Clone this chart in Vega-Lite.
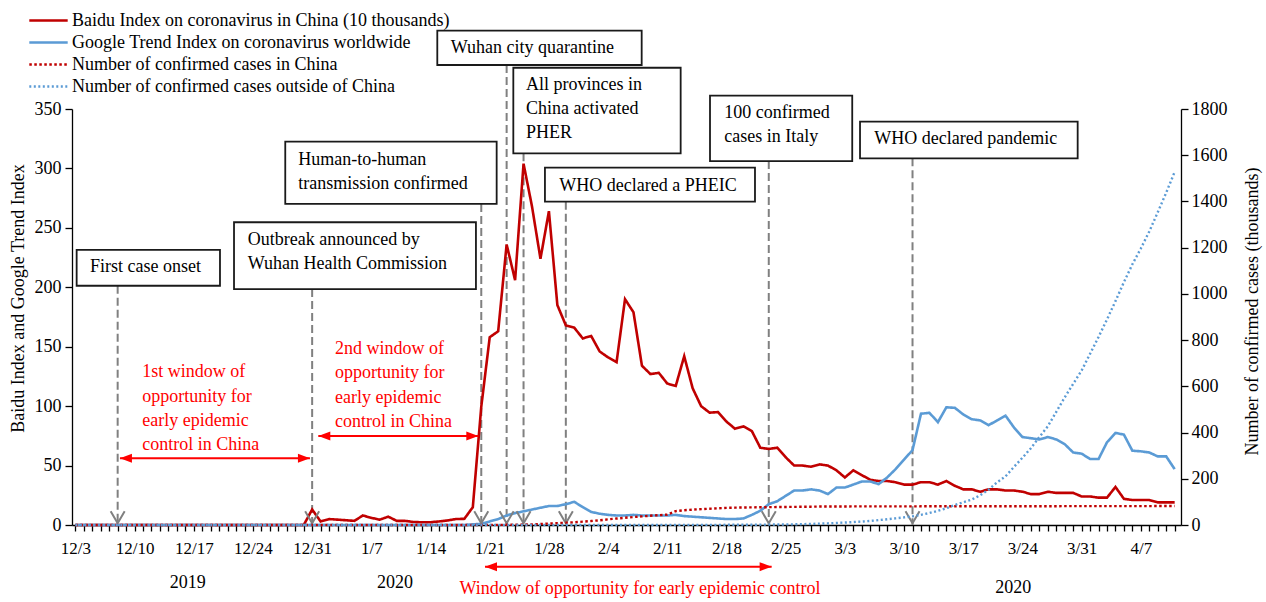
{
"$schema": "https://vega.github.io/schema/vega-lite/v6.json",
"width": 1109, "height": 416,
"autosize": {"type": "none"},
"padding": {"left": 72, "top": 109, "right": 85, "bottom": 77},
"background": "white",
"config": {
  "font": "Liberation Serif",
  "view": {"stroke": null},
  "axis": {"labelFont": "Liberation Serif", "titleFont": "Liberation Serif", "labelColor": "black", "titleColor": "black", "domainColor": "black", "tickColor": "black", "grid": false, "titleFontWeight": "normal", "labelFontSize": 18, "titleFontSize": 18, "domainWidth": 1.3, "tickWidth": 1.3}
},
"datasets": {
"s": [
{"x":"2019/12/03","b":0,"g":0,"c":0,"o":0},
{"x":"2019/12/04","b":0,"g":0,"c":0,"o":0},
{"x":"2019/12/05","b":0,"g":0,"c":0,"o":0},
{"x":"2019/12/06","b":0,"g":0,"c":0,"o":0},
{"x":"2019/12/07","b":0,"g":0,"c":0,"o":0},
{"x":"2019/12/08","b":0,"g":0,"c":0,"o":0},
{"x":"2019/12/09","b":0,"g":0,"c":0,"o":0},
{"x":"2019/12/10","b":0,"g":0,"c":0,"o":0},
{"x":"2019/12/11","b":0,"g":0,"c":0,"o":0},
{"x":"2019/12/12","b":0,"g":0,"c":0,"o":0},
{"x":"2019/12/13","b":0,"g":0,"c":0,"o":0},
{"x":"2019/12/14","b":0,"g":0,"c":0,"o":0},
{"x":"2019/12/15","b":0,"g":0,"c":0,"o":0},
{"x":"2019/12/16","b":0,"g":0,"c":0,"o":0},
{"x":"2019/12/17","b":0,"g":0,"c":0,"o":0},
{"x":"2019/12/18","b":0,"g":0,"c":0,"o":0},
{"x":"2019/12/19","b":0,"g":0,"c":0,"o":0},
{"x":"2019/12/20","b":0,"g":0,"c":0,"o":0},
{"x":"2019/12/21","b":0,"g":0,"c":0,"o":0},
{"x":"2019/12/22","b":0,"g":0,"c":0,"o":0},
{"x":"2019/12/23","b":0,"g":0,"c":0,"o":0},
{"x":"2019/12/24","b":0,"g":0,"c":0,"o":0},
{"x":"2019/12/25","b":0,"g":0,"c":0,"o":0},
{"x":"2019/12/26","b":0,"g":0,"c":0,"o":0},
{"x":"2019/12/27","b":0,"g":0,"c":0,"o":0},
{"x":"2019/12/28","b":0,"g":0,"c":0,"o":0},
{"x":"2019/12/29","b":0,"g":0,"c":0,"o":0},
{"x":"2019/12/30","b":0,"g":0,"c":0,"o":0},
{"x":"2019/12/31","b":13,"g":0,"c":0.03,"o":0},
{"x":"2020/01/01","b":3,"g":0,"c":0.03,"o":0},
{"x":"2020/01/02","b":5,"g":0,"c":0.03,"o":0},
{"x":"2020/01/03","b":4.5,"g":0,"c":0.04,"o":0},
{"x":"2020/01/04","b":4,"g":0,"c":0.04,"o":0},
{"x":"2020/01/05","b":3.5,"g":0,"c":0.04,"o":0},
{"x":"2020/01/06","b":8,"g":0,"c":0.04,"o":0},
{"x":"2020/01/07","b":6,"g":0,"c":0.04,"o":0},
{"x":"2020/01/08","b":4.5,"g":0,"c":0.04,"o":0},
{"x":"2020/01/09","b":7,"g":0,"c":0.04,"o":0},
{"x":"2020/01/10","b":3.5,"g":0,"c":0.04,"o":0},
{"x":"2020/01/11","b":3.5,"g":0,"c":0.04,"o":0},
{"x":"2020/01/12","b":2.5,"g":0,"c":0.04,"o":0},
{"x":"2020/01/13","b":2.3,"g":0,"c":0.04,"o":0},
{"x":"2020/01/14","b":2.3,"g":0,"c":0.04,"o":0},
{"x":"2020/01/15","b":3,"g":0,"c":0.04,"o":0},
{"x":"2020/01/16","b":3.8,"g":0,"c":0.04,"o":0},
{"x":"2020/01/17","b":5,"g":0,"c":0.05,"o":0},
{"x":"2020/01/18","b":5.2,"g":0,"c":0.06,"o":0},
{"x":"2020/01/19","b":15,"g":0.5,"c":0.2,"o":0},
{"x":"2020/01/20","b":99.5,"g":1,"c":0.29,"o":0},
{"x":"2020/01/21","b":158,"g":3,"c":0.44,"o":0.01},
{"x":"2020/01/22","b":163,"g":5,"c":0.57,"o":0.01},
{"x":"2020/01/23","b":236,"g":8,"c":0.83,"o":0.02},
{"x":"2020/01/24","b":206,"g":10,"c":1.29,"o":0.02},
{"x":"2020/01/25","b":304,"g":11.5,"c":1.98,"o":0.03},
{"x":"2020/01/26","b":268,"g":13,"c":2.74,"o":0.04},
{"x":"2020/01/27","b":224,"g":14.5,"c":4.52,"o":0.05},
{"x":"2020/01/28","b":264,"g":16,"c":5.97,"o":0.06},
{"x":"2020/01/29","b":185,"g":16,"c":7.71,"o":0.07},
{"x":"2020/01/30","b":168,"g":17.5,"c":9.69,"o":0.08},
{"x":"2020/01/31","b":166,"g":19.5,"c":11.79,"o":0.11},
{"x":"2020/02/01","b":157,"g":15,"c":14.38,"o":0.13},
{"x":"2020/02/02","b":159,"g":11,"c":17.21,"o":0.15},
{"x":"2020/02/03","b":146,"g":9.5,"c":20.44,"o":0.15},
{"x":"2020/02/04","b":141,"g":8.5,"c":24.32,"o":0.16},
{"x":"2020/02/05","b":137,"g":8,"c":28.02,"o":0.19},
{"x":"2020/02/06","b":190,"g":8,"c":31.16,"o":0.22},
{"x":"2020/02/07","b":179,"g":8.5,"c":34.55,"o":0.27},
{"x":"2020/02/08","b":134,"g":8,"c":37.2,"o":0.29},
{"x":"2020/02/09","b":127,"g":8,"c":40.17,"o":0.31},
{"x":"2020/02/10","b":128,"g":8,"c":42.64,"o":0.32},
{"x":"2020/02/11","b":119,"g":8,"c":44.65,"o":0.39},
{"x":"2020/02/12","b":117,"g":8.5,"c":59.8,"o":0.44},
{"x":"2020/02/13","b":142,"g":7.5,"c":63.85,"o":0.45},
{"x":"2020/02/14","b":115,"g":7,"c":66.49,"o":0.51},
{"x":"2020/02/15","b":100,"g":6.5,"c":68.5,"o":0.53},
{"x":"2020/02/16","b":94.5,"g":6,"c":70.55,"o":0.68},
{"x":"2020/02/17","b":95,"g":5.5,"c":72.44,"o":0.69},
{"x":"2020/02/18","b":87,"g":5,"c":74.19,"o":0.79},
{"x":"2020/02/19","b":81,"g":5,"c":75,"o":0.8},
{"x":"2020/02/20","b":83,"g":5.5,"c":75.89,"o":1},
{"x":"2020/02/21","b":79,"g":8.5,"c":76.29,"o":1.1},
{"x":"2020/02/22","b":65,"g":12,"c":76.94,"o":1.4},
{"x":"2020/02/23","b":64,"g":17.5,"c":77.15,"o":1.8},
{"x":"2020/02/24","b":65,"g":20,"c":77.66,"o":2.1},
{"x":"2020/02/25","b":57,"g":24.5,"c":78.06,"o":2.5},
{"x":"2020/02/26","b":50,"g":29,"c":78.5,"o":2.9},
{"x":"2020/02/27","b":50,"g":29,"c":78.82,"o":3.7},
{"x":"2020/02/28","b":49,"g":30,"c":79.25,"o":4.7},
{"x":"2020/02/29","b":51,"g":29,"c":79.82,"o":6},
{"x":"2020/03/01","b":50,"g":26,"c":80.03,"o":7.2},
{"x":"2020/03/02","b":46,"g":31.5,"c":80.15,"o":8.8},
{"x":"2020/03/03","b":40,"g":31.5,"c":80.27,"o":10.6},
{"x":"2020/03/04","b":46,"g":34,"c":80.41,"o":12.7},
{"x":"2020/03/05","b":42,"g":36.6,"c":80.55,"o":14.8},
{"x":"2020/03/06","b":38,"g":36.6,"c":80.65,"o":17.5},
{"x":"2020/03/07","b":37,"g":34.4,"c":80.7,"o":21.1},
{"x":"2020/03/08","b":37,"g":40,"c":80.74,"o":24.7},
{"x":"2020/03/09","b":36,"g":47,"c":80.75,"o":28.7},
{"x":"2020/03/10","b":34,"g":55,"c":80.78,"o":32.8},
{"x":"2020/03/11","b":34,"g":63,"c":80.79,"o":37.4},
{"x":"2020/03/12","b":36,"g":93.6,"c":80.81,"o":44.1},
{"x":"2020/03/13","b":36,"g":94.4,"c":80.82,"o":51.8},
{"x":"2020/03/14","b":34,"g":86.5,"c":80.84,"o":61.5},
{"x":"2020/03/15","b":37,"g":99,"c":80.86,"o":72.5},
{"x":"2020/03/16","b":33,"g":98.6,"c":80.88,"o":86.4},
{"x":"2020/03/17","b":30,"g":93,"c":80.89,"o":98},
{"x":"2020/03/18","b":30,"g":89,"c":80.93,"o":110},
{"x":"2020/03/19","b":28,"g":88,"c":80.97,"o":128.6},
{"x":"2020/03/20","b":30,"g":84,"c":81.01,"o":152.8},
{"x":"2020/03/21","b":30,"g":88,"c":81.05,"o":184.6},
{"x":"2020/03/22","b":29,"g":92,"c":81.09,"o":210.6},
{"x":"2020/03/23","b":29,"g":82,"c":81.17,"o":251.3},
{"x":"2020/03/24","b":28,"g":74,"c":81.22,"o":291.1},
{"x":"2020/03/25","b":26,"g":73,"c":81.29,"o":332.4},
{"x":"2020/03/26","b":26,"g":72,"c":81.34,"o":380.8},
{"x":"2020/03/27","b":28,"g":74,"c":81.39,"o":427.1},
{"x":"2020/03/28","b":27,"g":72,"c":81.44,"o":489.5},
{"x":"2020/03/29","b":27,"g":68,"c":81.47,"o":552.4},
{"x":"2020/03/30","b":27,"g":61,"c":81.52,"o":610.8},
{"x":"2020/03/31","b":24,"g":60,"c":81.55,"o":668.4},
{"x":"2020/04/01","b":24,"g":55.5,"c":81.59,"o":741},
{"x":"2020/04/02","b":23,"g":55.5,"c":81.62,"o":813.8},
{"x":"2020/04/03","b":23,"g":69.6,"c":81.64,"o":889.5},
{"x":"2020/04/04","b":32,"g":77.5,"c":81.67,"o":968.7},
{"x":"2020/04/05","b":22,"g":76,"c":81.71,"o":1050.8},
{"x":"2020/04/06","b":21,"g":62.5,"c":81.74,"o":1128},
{"x":"2020/04/07","b":21,"g":62,"c":81.8,"o":1196.6},
{"x":"2020/04/08","b":21,"g":61,"c":81.87,"o":1270.2},
{"x":"2020/04/09","b":19,"g":57.7,"c":81.91,"o":1353},
{"x":"2020/04/10","b":19,"g":57.7,"c":81.95,"o":1438},
{"x":"2020/04/11","b":19,"g":47,"c":82.05,"o":1527.5}
],
"ev": [
{"ld":"2019/12/08","lt":201.3,"x1":"2019/12/03 03:36","x2":"2019/12/20 02:24","y1":231.4,"y2":201.3,"tx":"2019/12/04 17:31","ty":216.8,"t":"First case onset"},
{"ld":"2019/12/31","lt":198.5,"x1":"2019/12/21 18:14","x2":"2020/01/19 08:53","y1":254.7,"y2":198.5,"tx":"2019/12/23 09:07","ty":239.8,"t":"Outbreak announced by\nWuhan Health Commission"},
{"ld":"2020/01/20","lt":270.1,"x1":"2019/12/27 19:41","x2":"2020/01/21 19:41","y1":322.5,"y2":270.1,"tx":"2019/12/29 08:38","ty":307.1,"t":"Human-to-human\ntransmission confirmed"},
{"ld":"2020/01/23","lt":387.0,"x1":"2020/01/14 19:12","x2":"2020/02/07 23:17","y1":415.9,"y2":387.0,"tx":"2020/01/16 09:07","ty":401.5,"t":"Wuhan city quarantine"},
{"ld":"2020/01/25","lt":312.7,"x1":"2020/01/23 18:58","x2":"2020/02/12 13:55","y1":384.7,"y2":312.7,"tx":"2020/01/25 06:58","ty":370.2,"t":"All provinces in\nChina activated\nPHER"},
{"ld":"2020/01/30","lt":272.0,"x1":"2020/01/27 12:43","x2":"2020/02/21 08:53","y1":300.6,"y2":272.0,"tx":"2020/01/29 05:31","ty":285.5,"t":"WHO declared a PHEIC"},
{"ld":"2020/02/23","lt":306.2,"x1":"2020/02/16 01:12","x2":"2020/03/03 20:53","y1":361.2,"y2":306.2,"tx":"2020/02/17 17:46","ty":346.4,"t":"100 confirmed\ncases in Italy"},
{"ld":"2020/03/11","lt":308.5,"x1":"2020/03/04 18:58","x2":"2020/03/30 12:43","y1":339.3,"y2":308.5,"tx":"2020/03/06 11:31","ty":324.5,"t":"WHO declared pandemic"}
],
"win": [
{"a":"2019/12/08 06:30","b":"2019/12/30 17:45","y":56.1},
{"a":"2019/12/31 17:30","b":"2020/01/19 15:36","y":74.9},
{"a":"2020/01/20 10:34","b":"2020/02/23 08:10","y":-35.1}
]
},
"layer": [
{"layer": [
  {"data": {"name": "ev"},
   "mark": {"type": "rule", "color": "#808080", "strokeWidth": 2, "strokeDash": [8, 4]},
   "encoding": {
     "x": {"field": "ld", "type": "temporal", "scale": {"domain": [{"year": 2019, "month": 12, "date": 2, "hours": 14, "minutes": 24}, {"year": 2020, "month": 4, "date": 11, "hours": 18}]},
       "axis": {"orient": "bottom", "title": null, "tickCount": {"interval": "day", "step": 1}, "labelExpr": "round((datum.value - datetime(2019, 11, 3)) / 864e5) % 7 == 0 ? timeFormat(datum.value, '%-m/%-d') : ''", "labelOverlap": false, "labelFlush": false, "labelBound": false, "tickSize": 6, "labelPadding": 9, "labelFontSize": 17, "labelAngle": 0}},
     "y": {"field": "lt", "type": "quantitative", "scale": {"domain": [0, 350], "nice": false},
       "axis": {"orient": "left", "values": [0, 50, 100, 150, 200, 250, 300, 350], "format": "d", "tickSize": 7, "labelPadding": 4, "title": "Baidu Index and Google Trend Index", "titleX": -54, "titleY": 189, "titleAngle": 270, "titleBaseline": "middle", "titleAlign": "center"}},
     "y2": {"datum": 0}
   }},
  {"data": {"name": "s"},
   "transform": [{"fold": ["b", "g"], "as": ["k", "v"]}],
   "mark": {"type": "line", "strokeWidth": 2.6},
   "encoding": {
     "x": {"field": "x", "type": "temporal", "scale": {"domain": [{"year": 2019, "month": 12, "date": 2, "hours": 14, "minutes": 24}, {"year": 2020, "month": 4, "date": 11, "hours": 18}]},
       "axis": {"orient": "bottom", "title": null, "tickCount": {"interval": "day", "step": 1}, "labelExpr": "round((datum.value - datetime(2019, 11, 3)) / 864e5) % 7 == 0 ? timeFormat(datum.value, '%-m/%-d') : ''", "labelOverlap": false, "labelFlush": false, "labelBound": false, "tickSize": 6, "labelPadding": 9, "labelFontSize": 17, "labelAngle": 0}},
     "y": {"field": "v", "type": "quantitative", "scale": {"domain": [0, 350], "nice": false},
       "axis": {"orient": "left", "values": [0, 50, 100, 150, 200, 250, 300, 350], "format": "d", "tickSize": 7, "labelPadding": 4, "title": "Baidu Index and Google Trend Index", "titleX": -54, "titleY": 189, "titleAngle": 270, "titleBaseline": "middle", "titleAlign": "center"}},
     "color": {"field": "k", "type": "nominal", "scale": {"domain": ["b", "g", "c", "o"], "range": ["#C00000", "#5B9BD5", "#C00000", "#5B9BD5"]},
       "legend": {"title": null, "orient": "none", "legendX": -33, "legendY": -98, "direction": "vertical", "symbolType": "M-2.4,0H2.4", "symbolSize": 256, "symbolStrokeWidth": 2.5, "labelFontSize": 18, "labelFont": "Liberation Serif", "labelColor": "black", "labelOffset": 14, "rowPadding": 3, "labelLimit": 800, "padding": 0,
         "labelExpr": "datum.label == 'b' ? 'Baidu Index on coronavirus in China (10 thousands)' : datum.label == 'g' ? 'Google Trend Index on coronavirus worldwide' : datum.label == 'c' ? 'Number of confirmed cases in China' : 'Number of confirmed cases outside of China'"}},
     "strokeDash": {"field": "k", "type": "nominal", "scale": {"domain": ["b", "g", "c", "o"], "range": [[1, 0], [1, 0], [2.5, 2.5], [2, 2.5]]},
       "legend": {"title": null, "orient": "none", "legendX": -33, "legendY": -98, "direction": "vertical", "symbolType": "M-2.4,0H2.4", "symbolSize": 256, "symbolStrokeWidth": 2.5, "labelFontSize": 18, "labelFont": "Liberation Serif", "labelColor": "black", "labelOffset": 14, "rowPadding": 3, "labelLimit": 800, "padding": 0,
         "labelExpr": "datum.label == 'b' ? 'Baidu Index on coronavirus in China (10 thousands)' : datum.label == 'g' ? 'Google Trend Index on coronavirus worldwide' : datum.label == 'c' ? 'Number of confirmed cases in China' : 'Number of confirmed cases outside of China'"}}
   }},
  {"data": {"name": "ev"},
   "mark": {"type": "point", "shape": "M-1,-1.7L0,0L1,-1.7", "size": 196, "filled": false, "color": "#808080", "strokeWidth": 2, "opacity": 1},
   "encoding": {
     "x": {"field": "ld", "type": "temporal", "scale": {"domain": [{"year": 2019, "month": 12, "date": 2, "hours": 14, "minutes": 24}, {"year": 2020, "month": 4, "date": 11, "hours": 18}]},
       "axis": {"orient": "bottom", "title": null, "tickCount": {"interval": "day", "step": 1}, "labelExpr": "round((datum.value - datetime(2019, 11, 3)) / 864e5) % 7 == 0 ? timeFormat(datum.value, '%-m/%-d') : ''", "labelOverlap": false, "labelFlush": false, "labelBound": false, "tickSize": 6, "labelPadding": 9, "labelFontSize": 17, "labelAngle": 0}},
     "y": {"datum": 1.5, "type": "quantitative", "scale": {"domain": [0, 350], "nice": false},
       "axis": {"orient": "left", "values": [0, 50, 100, 150, 200, 250, 300, 350], "format": "d", "tickSize": 7, "labelPadding": 4, "title": "Baidu Index and Google Trend Index", "titleX": -54, "titleY": 189, "titleAngle": 270, "titleBaseline": "middle", "titleAlign": "center"}}
   }},
  {"data": {"name": "ev"},
   "mark": {"type": "rect", "fill": "white", "stroke": "#1a1a1a", "strokeWidth": 1.8},
   "encoding": {
     "x": {"field": "x1", "type": "temporal", "scale": {"domain": [{"year": 2019, "month": 12, "date": 2, "hours": 14, "minutes": 24}, {"year": 2020, "month": 4, "date": 11, "hours": 18}]},
       "axis": {"orient": "bottom", "title": null, "tickCount": {"interval": "day", "step": 1}, "labelExpr": "round((datum.value - datetime(2019, 11, 3)) / 864e5) % 7 == 0 ? timeFormat(datum.value, '%-m/%-d') : ''", "labelOverlap": false, "labelFlush": false, "labelBound": false, "tickSize": 6, "labelPadding": 9, "labelFontSize": 17, "labelAngle": 0}},
     "x2": {"field": "x2"},
     "y": {"field": "y1", "type": "quantitative", "scale": {"domain": [0, 350], "nice": false},
       "axis": {"orient": "left", "values": [0, 50, 100, 150, 200, 250, 300, 350], "format": "d", "tickSize": 7, "labelPadding": 4, "title": "Baidu Index and Google Trend Index", "titleX": -54, "titleY": 189, "titleAngle": 270, "titleBaseline": "middle", "titleAlign": "center"}},
     "y2": {"field": "y2"}
   }},
  {"data": {"name": "ev"},
   "mark": {"type": "text", "align": "left", "baseline": "middle", "fontSize": 18, "lineHeight": 24, "lineBreak": "\n", "color": "black"},
   "encoding": {
     "x": {"field": "tx", "type": "temporal", "scale": {"domain": [{"year": 2019, "month": 12, "date": 2, "hours": 14, "minutes": 24}, {"year": 2020, "month": 4, "date": 11, "hours": 18}]},
       "axis": {"orient": "bottom", "title": null, "tickCount": {"interval": "day", "step": 1}, "labelExpr": "round((datum.value - datetime(2019, 11, 3)) / 864e5) % 7 == 0 ? timeFormat(datum.value, '%-m/%-d') : ''", "labelOverlap": false, "labelFlush": false, "labelBound": false, "tickSize": 6, "labelPadding": 9, "labelFontSize": 17, "labelAngle": 0}},
     "y": {"field": "ty", "type": "quantitative", "scale": {"domain": [0, 350], "nice": false},
       "axis": {"orient": "left", "values": [0, 50, 100, 150, 200, 250, 300, 350], "format": "d", "tickSize": 7, "labelPadding": 4, "title": "Baidu Index and Google Trend Index", "titleX": -54, "titleY": 189, "titleAngle": 270, "titleBaseline": "middle", "titleAlign": "center"}},
     "text": {"field": "t", "type": "nominal"}
   }},
  {"data": {"name": "win"},
   "mark": {"type": "rule", "color": "#FF0000", "strokeWidth": 2},
   "encoding": {
     "x": {"field": "a", "type": "temporal", "scale": {"domain": [{"year": 2019, "month": 12, "date": 2, "hours": 14, "minutes": 24}, {"year": 2020, "month": 4, "date": 11, "hours": 18}]},
       "axis": {"orient": "bottom", "title": null, "tickCount": {"interval": "day", "step": 1}, "labelExpr": "round((datum.value - datetime(2019, 11, 3)) / 864e5) % 7 == 0 ? timeFormat(datum.value, '%-m/%-d') : ''", "labelOverlap": false, "labelFlush": false, "labelBound": false, "tickSize": 6, "labelPadding": 9, "labelFontSize": 17, "labelAngle": 0}},
     "x2": {"field": "b"},
     "y": {"field": "y", "type": "quantitative", "scale": {"domain": [0, 350], "nice": false},
       "axis": {"orient": "left", "values": [0, 50, 100, 150, 200, 250, 300, 350], "format": "d", "tickSize": 7, "labelPadding": 4, "title": "Baidu Index and Google Trend Index", "titleX": -54, "titleY": 189, "titleAngle": 270, "titleBaseline": "middle", "titleAlign": "center"}}
   }},
  {"data": {"name": "win"},
   "mark": {"type": "point", "shape": "M0,0L2,-0.75L2,0.75Z", "size": 144, "filled": true, "color": "#FF0000", "opacity": 1},
   "encoding": {
     "x": {"field": "a", "type": "temporal", "scale": {"domain": [{"year": 2019, "month": 12, "date": 2, "hours": 14, "minutes": 24}, {"year": 2020, "month": 4, "date": 11, "hours": 18}]},
       "axis": {"orient": "bottom", "title": null, "tickCount": {"interval": "day", "step": 1}, "labelExpr": "round((datum.value - datetime(2019, 11, 3)) / 864e5) % 7 == 0 ? timeFormat(datum.value, '%-m/%-d') : ''", "labelOverlap": false, "labelFlush": false, "labelBound": false, "tickSize": 6, "labelPadding": 9, "labelFontSize": 17, "labelAngle": 0}},
     "y": {"field": "y", "type": "quantitative", "scale": {"domain": [0, 350], "nice": false},
       "axis": {"orient": "left", "values": [0, 50, 100, 150, 200, 250, 300, 350], "format": "d", "tickSize": 7, "labelPadding": 4, "title": "Baidu Index and Google Trend Index", "titleX": -54, "titleY": 189, "titleAngle": 270, "titleBaseline": "middle", "titleAlign": "center"}}
   }},
  {"data": {"name": "win"},
   "mark": {"type": "point", "shape": "M0,0L-2,-0.75L-2,0.75Z", "size": 144, "filled": true, "color": "#FF0000", "opacity": 1},
   "encoding": {
     "x": {"field": "b", "type": "temporal", "scale": {"domain": [{"year": 2019, "month": 12, "date": 2, "hours": 14, "minutes": 24}, {"year": 2020, "month": 4, "date": 11, "hours": 18}]},
       "axis": {"orient": "bottom", "title": null, "tickCount": {"interval": "day", "step": 1}, "labelExpr": "round((datum.value - datetime(2019, 11, 3)) / 864e5) % 7 == 0 ? timeFormat(datum.value, '%-m/%-d') : ''", "labelOverlap": false, "labelFlush": false, "labelBound": false, "tickSize": 6, "labelPadding": 9, "labelFontSize": 17, "labelAngle": 0}},
     "y": {"field": "y", "type": "quantitative", "scale": {"domain": [0, 350], "nice": false},
       "axis": {"orient": "left", "values": [0, 50, 100, 150, 200, 250, 300, 350], "format": "d", "tickSize": 7, "labelPadding": 4, "title": "Baidu Index and Google Trend Index", "titleX": -54, "titleY": 189, "titleAngle": 270, "titleBaseline": "middle", "titleAlign": "center"}}
   }},
  {"data": {"values": [
     {"tx": "2019/12/10 21:50", "ty": 128.5, "t": "1st window of\nopportunity for\nearly epidemic\ncontrol in China"},
     {"tx": "2020/01/02 16:48", "ty": 148.1, "t": "2nd window of\nopportunity for\nearly epidemic\ncontrol in China"}]},
   "mark": {"type": "text", "align": "left", "baseline": "middle", "fontSize": 18, "lineHeight": 24.3, "lineBreak": "\n", "color": "#FF0000"},
   "encoding": {
     "x": {"field": "tx", "type": "temporal", "scale": {"domain": [{"year": 2019, "month": 12, "date": 2, "hours": 14, "minutes": 24}, {"year": 2020, "month": 4, "date": 11, "hours": 18}]},
       "axis": {"orient": "bottom", "title": null, "tickCount": {"interval": "day", "step": 1}, "labelExpr": "round((datum.value - datetime(2019, 11, 3)) / 864e5) % 7 == 0 ? timeFormat(datum.value, '%-m/%-d') : ''", "labelOverlap": false, "labelFlush": false, "labelBound": false, "tickSize": 6, "labelPadding": 9, "labelFontSize": 17, "labelAngle": 0}},
     "y": {"field": "ty", "type": "quantitative", "scale": {"domain": [0, 350], "nice": false},
       "axis": {"orient": "left", "values": [0, 50, 100, 150, 200, 250, 300, 350], "format": "d", "tickSize": 7, "labelPadding": 4, "title": "Baidu Index and Google Trend Index", "titleX": -54, "titleY": 189, "titleAngle": 270, "titleBaseline": "middle", "titleAlign": "center"}},
     "text": {"field": "t", "type": "nominal"}
   }},
  {"data": {"values": [
     {"tx": "2020/02/07 18:29", "ty": -54.1, "t": "Window of opportunity for early epidemic control"}]},
   "mark": {"type": "text", "align": "center", "baseline": "middle", "fontSize": 18, "color": "#FF0000"},
   "encoding": {
     "x": {"field": "tx", "type": "temporal", "scale": {"domain": [{"year": 2019, "month": 12, "date": 2, "hours": 14, "minutes": 24}, {"year": 2020, "month": 4, "date": 11, "hours": 18}]},
       "axis": {"orient": "bottom", "title": null, "tickCount": {"interval": "day", "step": 1}, "labelExpr": "round((datum.value - datetime(2019, 11, 3)) / 864e5) % 7 == 0 ? timeFormat(datum.value, '%-m/%-d') : ''", "labelOverlap": false, "labelFlush": false, "labelBound": false, "tickSize": 6, "labelPadding": 9, "labelFontSize": 17, "labelAngle": 0}},
     "y": {"field": "ty", "type": "quantitative", "scale": {"domain": [0, 350], "nice": false},
       "axis": {"orient": "left", "values": [0, 50, 100, 150, 200, 250, 300, 350], "format": "d", "tickSize": 7, "labelPadding": 4, "title": "Baidu Index and Google Trend Index", "titleX": -54, "titleY": 189, "titleAngle": 270, "titleBaseline": "middle", "titleAlign": "center"}},
     "text": {"field": "t", "type": "nominal"}
   }},
  {"data": {"values": [
     {"tx": "2019/12/16 07:12", "ty": -48.8, "t": "2019"},
     {"tx": "2020/01/09 19:12", "ty": -48.8, "t": "2020"},
     {"tx": "2020/03/22 21:36", "ty": -53.0, "t": "2020"}]},
   "mark": {"type": "text", "align": "center", "baseline": "middle", "fontSize": 18, "color": "black"},
   "encoding": {
     "x": {"field": "tx", "type": "temporal", "scale": {"domain": [{"year": 2019, "month": 12, "date": 2, "hours": 14, "minutes": 24}, {"year": 2020, "month": 4, "date": 11, "hours": 18}]},
       "axis": {"orient": "bottom", "title": null, "tickCount": {"interval": "day", "step": 1}, "labelExpr": "round((datum.value - datetime(2019, 11, 3)) / 864e5) % 7 == 0 ? timeFormat(datum.value, '%-m/%-d') : ''", "labelOverlap": false, "labelFlush": false, "labelBound": false, "tickSize": 6, "labelPadding": 9, "labelFontSize": 17, "labelAngle": 0}},
     "y": {"field": "ty", "type": "quantitative", "scale": {"domain": [0, 350], "nice": false},
       "axis": {"orient": "left", "values": [0, 50, 100, 150, 200, 250, 300, 350], "format": "d", "tickSize": 7, "labelPadding": 4, "title": "Baidu Index and Google Trend Index", "titleX": -54, "titleY": 189, "titleAngle": 270, "titleBaseline": "middle", "titleAlign": "center"}},
     "text": {"field": "t", "type": "nominal"}
   }}
]},
{"data": {"name": "s"},
 "transform": [{"fold": ["c", "o"], "as": ["k", "v"]}],
 "mark": {"type": "line", "strokeWidth": 2.4},
 "encoding": {
   "x": {"field": "x", "type": "temporal", "scale": {"domain": [{"year": 2019, "month": 12, "date": 2, "hours": 14, "minutes": 24}, {"year": 2020, "month": 4, "date": 11, "hours": 18}]},
     "axis": {"orient": "bottom", "title": null, "tickCount": {"interval": "day", "step": 1}, "labelExpr": "round((datum.value - datetime(2019, 11, 3)) / 864e5) % 7 == 0 ? timeFormat(datum.value, '%-m/%-d') : ''", "labelOverlap": false, "labelFlush": false, "labelBound": false, "tickSize": 6, "labelPadding": 9, "labelFontSize": 17, "labelAngle": 0}},
   "y": {"field": "v", "type": "quantitative", "scale": {"domain": [0, 1800], "nice": false},
     "axis": {"orient": "right", "values": [0, 200, 400, 600, 800, 1000, 1200, 1400, 1600, 1800], "format": "d", "tickSize": 7, "labelPadding": 3, "title": "Number of confirmed cases (thousands)", "titleX": 71, "titleY": 202, "titleAngle": 270, "titleBaseline": "middle", "titleAlign": "center"}},
   "color": {"field": "k", "type": "nominal", "scale": {"domain": ["b", "g", "c", "o"], "range": ["#C00000", "#5B9BD5", "#C00000", "#5B9BD5"]},
     "legend": {"title": null, "orient": "none", "legendX": -33, "legendY": -98, "direction": "vertical", "symbolType": "M-2.4,0H2.4", "symbolSize": 256, "symbolStrokeWidth": 2.5, "labelFontSize": 18, "labelFont": "Liberation Serif", "labelColor": "black", "labelOffset": 14, "rowPadding": 3, "labelLimit": 800, "padding": 0,
       "labelExpr": "datum.label == 'b' ? 'Baidu Index on coronavirus in China (10 thousands)' : datum.label == 'g' ? 'Google Trend Index on coronavirus worldwide' : datum.label == 'c' ? 'Number of confirmed cases in China' : 'Number of confirmed cases outside of China'"}},
   "strokeDash": {"field": "k", "type": "nominal", "scale": {"domain": ["b", "g", "c", "o"], "range": [[1, 0], [1, 0], [2.5, 2.5], [2, 2.5]]},
     "legend": {"title": null, "orient": "none", "legendX": -33, "legendY": -98, "direction": "vertical", "symbolType": "M-2.4,0H2.4", "symbolSize": 256, "symbolStrokeWidth": 2.5, "labelFontSize": 18, "labelFont": "Liberation Serif", "labelColor": "black", "labelOffset": 14, "rowPadding": 3, "labelLimit": 800, "padding": 0,
       "labelExpr": "datum.label == 'b' ? 'Baidu Index on coronavirus in China (10 thousands)' : datum.label == 'g' ? 'Google Trend Index on coronavirus worldwide' : datum.label == 'c' ? 'Number of confirmed cases in China' : 'Number of confirmed cases outside of China'"}}
 }}
],
"resolve": {"scale": {"y": "independent"}}
}
